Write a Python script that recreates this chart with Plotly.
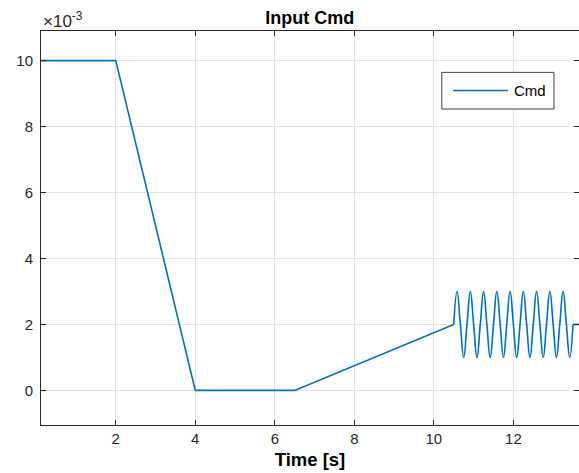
import plotly.graph_objects as go

# ---- data (values in raw units; axis shows them x1e-3) ----
ramp_t = [0.12, 2.0, 4.0, 6.5, 10.5]
ramp_v = [0.010, 0.010, 0.000, 0.000, 0.002]

osc_t = [10.500, 10.583, 10.667, 10.750, 10.833, 10.917, 11.000, 11.083, 11.167,
         11.250, 11.333, 11.417, 11.500, 11.583, 11.667, 11.750, 11.833, 11.917,
         12.000, 12.083, 12.167, 12.250, 12.333, 12.417, 12.500, 12.583, 12.667,
         12.750, 12.833, 12.917, 13.000, 13.083, 13.167, 13.250, 13.333, 13.417,
         13.500]
osc_v = [0.002, 0.003, 0.002, 0.001, 0.002, 0.003, 0.002, 0.001, 0.002,
         0.003, 0.002, 0.001, 0.002, 0.003, 0.002, 0.001, 0.002, 0.003,
         0.002, 0.001, 0.002, 0.003, 0.002, 0.001, 0.002, 0.003, 0.002,
         0.001, 0.002, 0.003, 0.002, 0.001, 0.002, 0.003, 0.002, 0.001,
         0.002]

tail_t = [13.5, 13.65]
tail_v = [0.002, 0.002]

x_ticks = [2, 4, 6, 8, 10, 12]
y_ticks = [0, 2, 4, 6, 8, 10]
legend_label = "Cmd"
scale = 1e3

BLUE = "#0072BD"
AX = "#262626"
GRID = "#e3e3e3"
FONT = "Liberation Sans, Arial, Helvetica, sans-serif"

fig = go.Figure()
fig.add_trace(go.Scatter(x=ramp_t, y=[v * scale for v in ramp_v], mode="lines",
                         name=legend_label, showlegend=False,
                         line=dict(color=BLUE, width=1.6)))
fig.add_trace(go.Scatter(x=osc_t, y=[v * scale for v in osc_v], mode="lines",
                         name=legend_label, showlegend=False,
                         line=dict(color=BLUE, width=1.6, shape="spline", smoothing=1.3)))
fig.add_trace(go.Scatter(x=tail_t, y=[v * scale for v in tail_v], mode="lines",
                         name=legend_label, showlegend=False,
                         line=dict(color=BLUE, width=1.6)))

fig.update_layout(
    width=579, height=473,
    margin=dict(l=41, r=0, t=31, b=48, autoexpand=False),
    paper_bgcolor="white", plot_bgcolor="white",
    font=dict(family=FONT, size=15, color=AX),
    title=dict(text="<b>Input Cmd</b>", x=0.535, xanchor="center",
               y=1 - 18 / 473, yanchor="middle",
               font=dict(size=18, color="black", family=FONT)),
    showlegend=False,
)

fig.update_xaxes(
    range=[0.12, 13.65], tickvals=x_ticks, ticktext=[str(v) for v in x_ticks],
    automargin=False,
    showgrid=True, gridcolor=GRID, gridwidth=1, zeroline=False,
    showline=True, linecolor=AX, linewidth=1, mirror="ticks",
    ticks="inside", ticklen=5, tickcolor=AX, tickfont=dict(size=15, color=AX),
    title=dict(text="<b>Time [s]</b>", font=dict(size=18.5, color="black"), standoff=7),
)
fig.update_yaxes(
    range=[-1.05, 10.9], tickvals=y_ticks, ticktext=[str(v) for v in y_ticks],
    automargin=False,
    showgrid=True, gridcolor=GRID, gridwidth=1, zeroline=False,
    showline=True, linecolor=AX, linewidth=1, mirror="ticks",
    ticks="inside", ticklen=5, tickcolor=AX, ticklabelstandoff=4,
    tickfont=dict(size=15, color=AX),
)

# exponent label
fig.add_annotation(text="\u00d710<sup>-3</sup>", xref="paper", yref="paper",
                   x=0, y=1, xanchor="left", yanchor="bottom", yshift=-2,
                   showarrow=False, font=dict(size=17, color=AX, family=FONT))

# legend box (MATLAB style)
fig.add_shape(type="rect", xref="paper", yref="paper",
              x0=0.745, x1=0.9535, y0=0.802, y1=0.895,
              line=dict(color="#404040", width=1), fillcolor="white", layer="above")
fig.add_shape(type="line", xref="paper", yref="paper",
              x0=0.766, x1=0.868, y0=0.849, y1=0.849,
              line=dict(color=BLUE, width=1.6), layer="above")
fig.add_annotation(text=legend_label, xref="paper", yref="paper",
                   x=0.8755, y=0.849, xanchor="left", yanchor="middle",
                   showarrow=False, font=dict(size=15, color="black", family=FONT))

fig.write_html("out.html", config={"displayModeBar": False},
               post_script="document.body.style.margin='0';document.body.style.overflow='hidden';")
